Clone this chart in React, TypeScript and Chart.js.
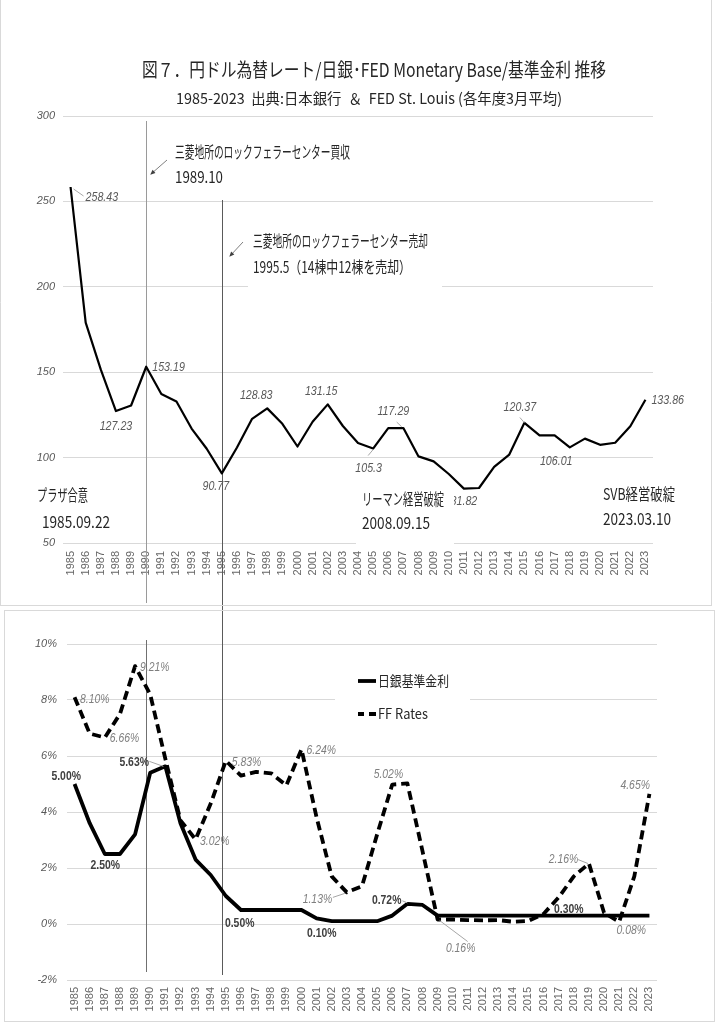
import React, { useEffect, useRef } from 'react';
import { Chart, registerables } from 'chart.js';
Chart.register(...registerables);

const years = ['1985','1986','1987','1988','1989','1990','1991','1992','1993','1994','1995','1996','1997','1998','1999','2000','2001','2002','2003','2004','2005','2006','2007','2008','2009','2010','2011','2012','2013','2014','2015','2016','2017','2018','2019','2020','2021','2022','2023'];

const usdJpy = [258.43, 179, 151.5, 127.23, 130.5, 153.19, 137.2, 132.8, 117, 105.2, 90.77, 105.9, 122.7, 128.83, 119.8, 106.5, 121, 131.15, 118.5, 108.5, 105.3, 117.3, 117.29, 100.7, 97.8, 90.4, 81.82, 82.2, 94.6, 101.8, 120.37, 113, 113, 106.01, 111.1, 107.5, 108.7, 118.4, 133.86];

const bojRate = [5.0, 3.6, 2.5, 2.5, 3.2, 5.4, 5.63, 3.6, 2.3, 1.75, 1.0, 0.5, 0.5, 0.5, 0.5, 0.5, 0.2, 0.1, 0.1, 0.1, 0.1, 0.3, 0.72, 0.68, 0.3, 0.3, 0.3, 0.3, 0.3, 0.3, 0.3, 0.3, 0.3, 0.3, 0.3, 0.3, 0.3, 0.3, 0.3];

const ffRate = [8.10, 6.8, 6.66, 7.5, 9.21, 8.2, 5.9, 3.7, 3.02, 4.3, 5.83, 5.3, 5.43, 5.38, 4.95, 6.24, 3.8, 1.7, 1.13, 1.35, 3.2, 4.98, 5.02, 2.6, 0.16, 0.16, 0.14, 0.13, 0.14, 0.08, 0.11, 0.36, 0.95, 1.7, 2.16, 0.4, 0.08, 1.7, 4.65];

const yenRange = [50, 300, 50];
const rateRange = [-2, 10, 2];
const markerYears = ['1990', '1995'];

const TITLE = '図７．円ドル為替レート/日銀･FED Monetary Base/基準金利 推移';
const SUBTITLE = '1985-2023  出典:日本銀行  ＆  FED St. Louis (各年度3月平均)';

const JP = "'Noto Sans CJK JP', sans-serif";
const LAT = "'Liberation Sans', Arial, sans-serif";

const yenLabels = [
  { i: 0, dx: 15, dy: 10, align: 'left', leader: [3, 2, 13, 9] },
  { i: 5, dx: 6, dy: 1, align: 'left' },
  { i: 3, dx: 0, dy: 15, align: 'center' },
  { i: 10, dx: -6, dy: 13, align: 'center' },
  { i: 13, dx: -11, dy: -12.5, align: 'center' },
  { i: 17, dx: -6.5, dy: -12.6, align: 'center' },
  { i: 20, dx: -4.5, dy: 20, align: 'center', leader: [0, 1, -5, 7] },
  { i: 22, dx: -10, dy: -16.3, align: 'center', leader: [-6.7, -6, -1.7, -1.3] },
  { i: 26, dx: 0, dy: 12.5, align: 'center' },
  { i: 30, dx: -4.5, dy: -15, align: 'center', leader: [-4.5, -5.3, 0, 0] },
  { i: 33, dx: -13.6, dy: 14.5, align: 'center' },
  { i: 38, dx: 6, dy: 1, align: 'left' },
];

const ffLabels = [
  { i: 0, dx: 5.5, dy: 2, align: 'left' },
  { i: 2, dx: 5, dy: 1, align: 'left' },
  { i: 4, dx: 5, dy: 1, align: 'left' },
  { i: 8, dx: 4.5, dy: 2, align: 'left' },
  { i: 10, dx: 6, dy: 2, align: 'left' },
  { i: 15, dx: 5, dy: 1.5, align: 'left' },
  { i: 18, dx: -14.7, dy: 7, align: 'right', leader: [-14, 5, -2, 1] },
  { i: 22, dx: -19, dy: -9, align: 'center' },
  { i: 24, dx: 23, dy: 28.5, align: 'center', leader: [2, 1, 30, 22] },
  { i: 34, dx: -10.7, dy: -3.7, align: 'right', leader: [-11, -4, -1, 0] },
  { i: 36, dx: -2.6, dy: 9, align: 'left' },
  { i: 38, dx: 0.5, dy: -8.4, align: 'right' },
];

const bojLabels = [
  { i: 0, dx: -8.4, dy: -8, align: 'center' },
  { i: 2, dx: 0.4, dy: 11, align: 'center' },
  { i: 6, dx: -16.4, dy: -4, align: 'right', leader: [-16, -5, -2, 0] },
  { i: 11, dx: -1.3, dy: 13, align: 'center' },
  { i: 17, dx: -10, dy: 12, align: 'center' },
  { i: 22, dx: -6, dy: -3, align: 'right', leader: [-5, -3, 0, -1] },
  { i: 33, dx: -5, dy: -6.6, align: 'center' },
];

const topNotes = [
  { t: '三菱地所のロックフェラーセンター買収', x: 175, y: 152, w: 175 },
  { t: '1989.10', x: 175, y: 177, w: 48 },
  { t: '三菱地所のロックフェラーセンター売却', x: 253, y: 241, w: 175 },
  { t: '1995.5（14棟中12棟を売却）', x: 253, y: 267, w: 158 },
  { t: 'プラザ合意', x: 37, y: 495, w: 51 },
  { t: '1985.09.22', x: 42, y: 522, w: 68 },
  { t: 'リーマン経営破綻', x: 362, y: 499, w: 82 },
  { t: '2008.09.15', x: 362, y: 523, w: 68 },
  { t: 'SVB経営破綻', x: 603, y: 494, w: 72 },
  { t: '2023.03.10', x: 603, y: 519, w: 68 },
];
const topArrows = [
  [167, 160, 151, 174],
  [243, 242, 230, 256],
];
const topBoxes = [
  [248, 228, 194, 67],
  [356, 482, 98, 66],
];

const shared: { x: number[] | null } = { x: null };

function drawFit(ctx: any, s: string, x: number, y: number, font: string, color: string, align: string, opt: { w?: number; sx?: number }) {
  ctx.save();
  ctx.font = font;
  const nat = ctx.measureText(s).width;
  const sx = opt.w ? opt.w / nat : (opt.sx ?? 1);
  const w = nat * sx;
  const left = align === 'left' ? x : align === 'center' ? x - w / 2 : x - w;
  ctx.translate(left, y);
  ctx.scale(sx, 1);
  ctx.fillStyle = color;
  ctx.textAlign = 'left';
  ctx.textBaseline = 'middle';
  ctx.fillText(s, 0, 0);
  ctx.restore();
}

function line(ctx: any, x1: number, y1: number, x2: number, y2: number, color: string, w = 1) {
  ctx.save();
  ctx.strokeStyle = color;
  ctx.lineWidth = w;
  ctx.setLineDash([]);
  ctx.beginPath();
  ctx.moveTo(x1, y1);
  ctx.lineTo(x2, y2);
  ctx.stroke();
  ctx.restore();
}

function drawLabels(chart: any, dsIndex: number, list: any[], fmt: (v: number) => string, font: string, color: string, sx: number) {
  const meta = chart.getDatasetMeta(dsIndex);
  const data = chart.data.datasets[dsIndex].data;
  const ctx = chart.ctx;
  list.forEach((l) => {
    const p = meta.data[l.i];
    if (!p) return;
    if (l.leader) {
      line(ctx, p.x + l.leader[0], p.y + l.leader[1], p.x + l.leader[2], p.y + l.leader[3], '#a6a6a6', 1);
    }
    drawFit(ctx, fmt(data[l.i]), p.x + l.dx, p.y + l.dy, font, color, l.align, { sx });
  });
}

const topPlugin = {
  id: 'topDecor',
  beforeDatasetsDraw(chart: any) {
    const ctx = chart.ctx;
    const xs = chart.scales.x;
    const xsPix = markerYears.map((y) => Math.round(xs.getPixelForValue(years.indexOf(y))) + 0.5);
    shared.x = xsPix;
    line(ctx, xsPix[0], 121, xsPix[0], 603, '#9a9a9a', 1);
    line(ctx, xsPix[1], 200, xsPix[1], 607, '#5a5a5a', 1);
  },
  afterDatasetsDraw(chart: any) {
    const ctx = chart.ctx;
    drawLabels(chart, 0, yenLabels, (v) => String(v), `italic 13px ${LAT}`, '#595959', 0.82);
    ctx.save();
    ctx.fillStyle = '#ffffff';
    topBoxes.forEach((b) => ctx.fillRect(b[0], b[1], b[2], b[3]));
    ctx.restore();
    topNotes.forEach((n) => drawFit(ctx, n.t, n.x, n.y, `16px ${JP}`, '#262626', 'left', { w: n.w }));
    topArrows.forEach((a) => {
      line(ctx, a[0], a[1], a[2], a[3], '#7f7f7f', 1);
      const ang = Math.atan2(a[3] - a[1], a[2] - a[0]);
      ctx.save();
      ctx.fillStyle = '#404040';
      ctx.translate(a[2], a[3]);
      ctx.rotate(ang);
      ctx.beginPath();
      ctx.moveTo(1, 0);
      ctx.lineTo(-4, -2.2);
      ctx.lineTo(-4, 2.2);
      ctx.closePath();
      ctx.fill();
      ctx.restore();
    });
  },
  afterDraw(chart: any) {
    const ctx = chart.ctx;
    drawFit(ctx, TITLE, 374, 70, `19px ${JP}`, '#262626', 'center', { w: 464 });
    drawFit(ctx, SUBTITLE, 369, 98, `15px ${JP}`, '#262626', 'center', { w: 386 });
    line(ctx, 0.5, 0, 0.5, 605.5, '#d9d9d9', 1);
    line(ctx, 711.5, 0, 711.5, 605.5, '#d9d9d9', 1);
    line(ctx, 0, 605.5, 712, 605.5, '#d9d9d9', 1);
  },
};

const botPlugin = {
  id: 'botDecor',
  beforeDatasetsDraw(chart: any) {
    const ctx = chart.ctx;
    const xs = chart.scales.x;
    const xsPix = shared.x || markerYears.map((y) => Math.round(xs.getPixelForValue(years.indexOf(y))) + 0.5);
    ctx.save();
    ctx.fillStyle = '#ffffff';
    ctx.fillRect(335, 55, 135, 70);
    ctx.restore();
    line(ctx, xsPix[0], 33, xsPix[0], 365, '#707070', 1);
    line(ctx, xsPix[1], 0, xsPix[1], 368, '#5a5a5a', 1);
  },
  afterDatasetsDraw(chart: any) {
    const ctx = chart.ctx;
    drawLabels(chart, 1, ffLabels, (v) => v.toFixed(2) + '%', `italic 13px ${LAT}`, '#7f7f7f', 0.8);
    drawLabels(chart, 0, bojLabels, (v) => v.toFixed(2) + '%', `bold 13px ${LAT}`, '#404040', 0.8);
    const ds = chart.data.datasets;
    line(ctx, 358, 74, 376, 74, '#000', 3.8);
    ctx.save();
    ctx.strokeStyle = '#000';
    ctx.lineWidth = 3.8;
    ctx.beginPath();
    ctx.moveTo(358, 107); ctx.lineTo(364, 107);
    ctx.moveTo(369, 107); ctx.lineTo(376, 107);
    ctx.stroke();
    ctx.restore();
    drawFit(ctx, ds[0].label, 378, 74, `14px ${JP}`, '#262626', 'left', { w: 71 });
    drawFit(ctx, ds[1].label, 378, 107, `14px ${JP}`, '#262626', 'left', { w: 50 });
  },
  afterDraw(chart: any) {
    const ctx = chart.ctx;
    ctx.save();
    ctx.strokeStyle = '#d9d9d9';
    ctx.lineWidth = 1;
    ctx.strokeRect(4.5, 3.5, 710, 411);
    ctx.restore();
  },
};

function topConfig(): any {
  return {
    type: 'line',
    data: {
      labels: years,
      datasets: [{ label: '円ドル為替レート', data: usdJpy, borderColor: '#000', borderWidth: 2.2, pointRadius: 0, tension: 0, fill: false, borderJoinStyle: 'round' }],
    },
    options: {
      responsive: false,
      animation: false,
      devicePixelRatio: 1,
      layout: { padding: { top: 116, left: 0, right: 64, bottom: 14 } },
      plugins: { legend: { display: false }, tooltip: { enabled: false }, title: { display: false } },
      scales: {
        x: {
          type: 'category', offset: true,
          grid: { display: false, drawTicks: false }, border: { display: false },
          ticks: { autoSkip: false, maxRotation: 90, minRotation: 90, padding: 8, color: '#666', font: { family: LAT, size: 11 } },
          afterFit(s: any) { s.height = 50; },
        },
        y: {
          min: yenRange[0], max: yenRange[1],
          ticks: { stepSize: yenRange[2], padding: 8, color: '#595959', font: { family: LAT, size: 11, style: 'italic' } },
          grid: { color: '#d9d9d9', drawTicks: false, lineWidth: 1 }, border: { display: false },
          afterFit(s: any) { s.width = 63; },
        },
      },
    },
    plugins: [topPlugin],
  };
}

function botConfig(): any {
  return {
    type: 'line',
    data: {
      labels: years,
      datasets: [
        { label: '日銀基準金利', data: bojRate, borderColor: '#000', borderWidth: 3.8, pointRadius: 0, tension: 0, fill: false, borderJoinStyle: 'round' },
        { label: 'FF Rates', data: ffRate, borderColor: '#000', borderWidth: 3.8, borderDash: [9, 5], pointRadius: 0, tension: 0, fill: false, borderJoinStyle: 'round' },
      ],
    },
    options: {
      responsive: false,
      animation: false,
      devicePixelRatio: 1,
      layout: { padding: { top: 37, left: 0, right: 60, bottom: 6 } },
      plugins: { legend: { display: false }, tooltip: { enabled: false }, title: { display: false } },
      scales: {
        x: {
          type: 'category', offset: true,
          grid: { display: false, drawTicks: false }, border: { display: false },
          ticks: { autoSkip: false, maxRotation: 90, minRotation: 90, padding: 7, color: '#666', font: { family: LAT, size: 11 } },
          afterFit(s: any) { s.height = 38; },
        },
        y: {
          min: rateRange[0], max: rateRange[1],
          ticks: { stepSize: rateRange[2], padding: 10, color: '#595959', font: { family: LAT, size: 11, style: 'italic' }, callback: (v: any) => v + '%' },
          grid: { color: '#d9d9d9', drawTicks: false, lineWidth: 1 }, border: { display: false },
          afterFit(s: any) { s.width = 67; },
        },
      },
    },
    plugins: [botPlugin],
  };
}

export default function App() {
  const topRef = useRef<HTMLCanvasElement>(null);
  const botRef = useRef<HTMLCanvasElement>(null);
  useEffect(() => {
    const top = new Chart(topRef.current as HTMLCanvasElement, topConfig());
    const bot = new Chart(botRef.current as HTMLCanvasElement, botConfig());
    return () => {
      top.destroy();
      bot.destroy();
    };
  }, []);
  return (
    <div style={{ position: 'absolute', left: 0, top: 0, width: 717, height: 1024, background: '#fff', overflow: 'hidden' }}>
      <canvas ref={topRef} width={717} height={607} style={{ position: 'absolute', left: 0, top: 0, width: 717, height: 607 }} />
      <canvas ref={botRef} width={717} height={417} style={{ position: 'absolute', left: 0, top: 607, width: 717, height: 417 }} />
    </div>
  );
}
